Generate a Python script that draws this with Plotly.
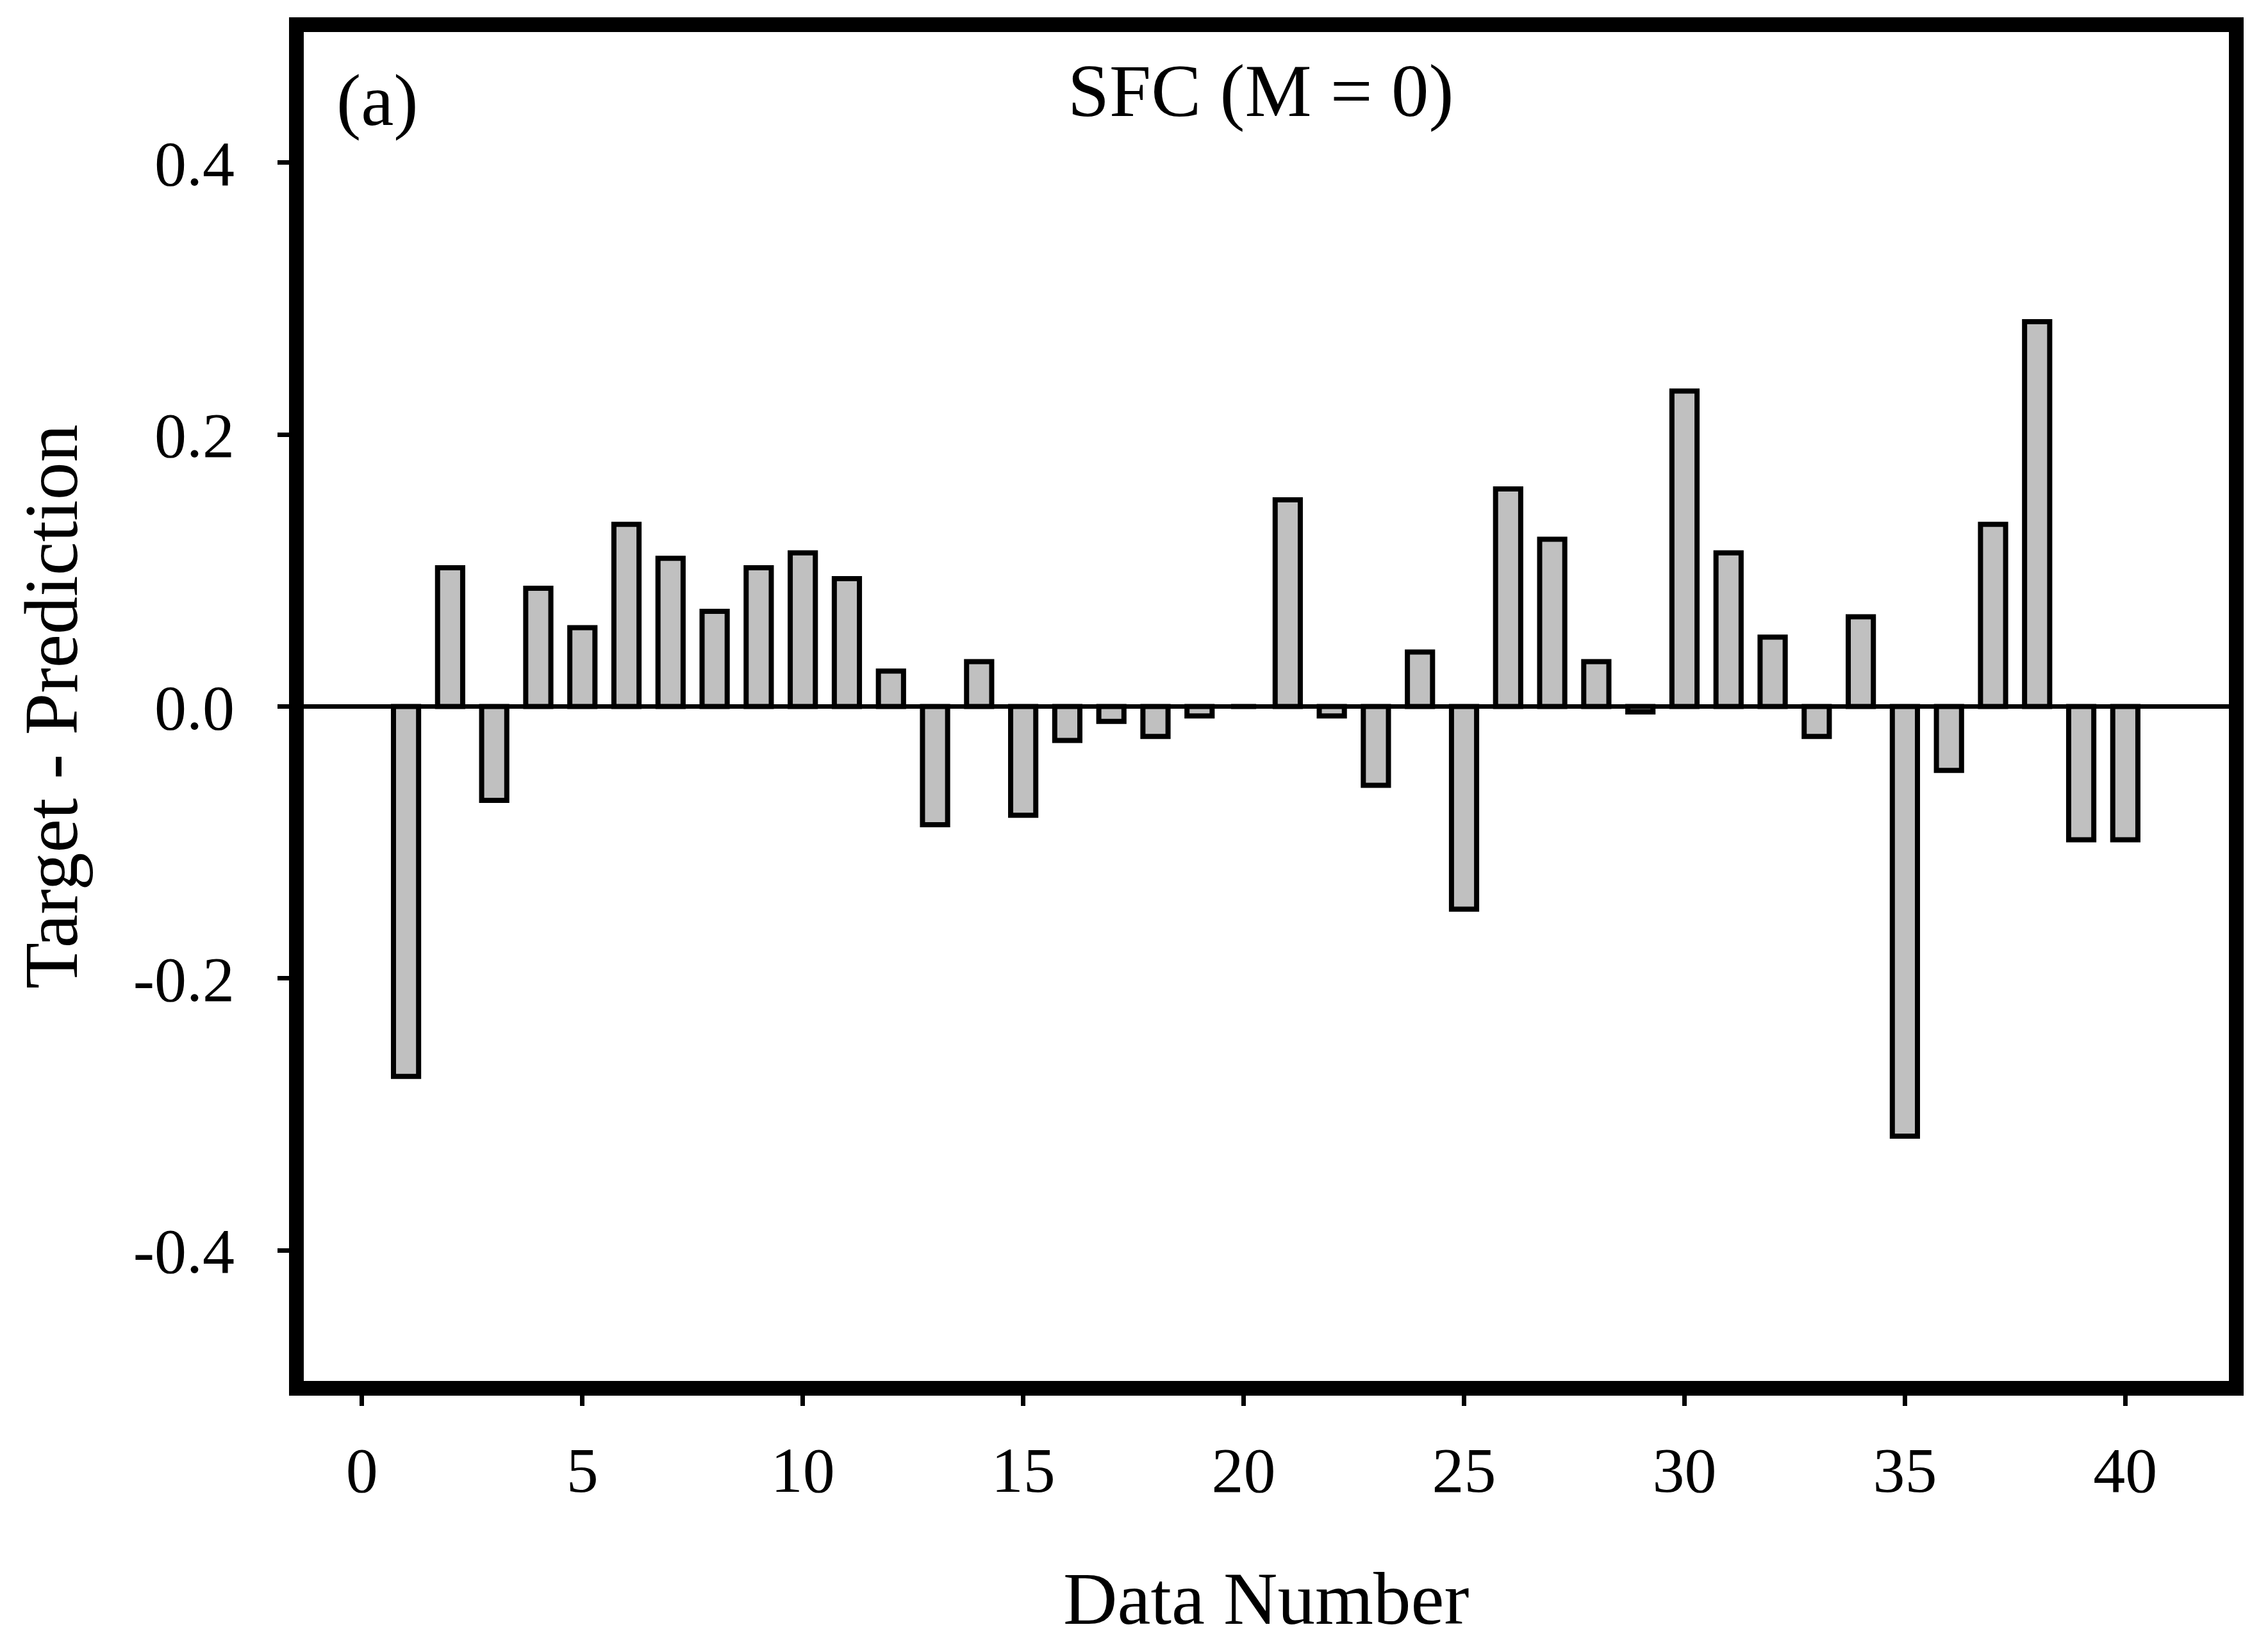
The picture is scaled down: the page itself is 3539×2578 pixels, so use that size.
import plotly.graph_objects as go

# ---- data ----
data_number = list(range(1, 41))
residual = [
    -0.272, 0.102, -0.069, 0.087, 0.058, 0.134, 0.109, 0.070, 0.102, 0.113,
    0.094, 0.026, -0.087, 0.033, -0.080, -0.025, -0.011, -0.022, -0.007, 0.0,
    0.152, -0.007, -0.058, 0.040, -0.149, 0.160, 0.123, 0.033, -0.004, 0.232,
    0.113, 0.051, -0.022, 0.066, -0.316, -0.047, 0.134, 0.283, -0.098, -0.098,
]
x_ticks = [0, 5, 10, 15, 20, 25, 30, 35, 40]
y_ticks = [-0.4, -0.2, 0.0, 0.2, 0.4]
y_tick_labels = ["-0.4", "-0.2", "0.0", "0.2", "0.4"]

FONT = "Liberation Serif, Times New Roman, serif"

fig = go.Figure(
    go.Bar(
        x=data_number,
        y=residual,
        width=0.57,
        marker=dict(color="#c0c0c0", line=dict(color="black", width=8)),
        showlegend=False,
    )
)

# page body has an 8px default margin; figure is sized to fit inside it
OFF = 8
W, H = 3539 - 2 * OFF, 2578 - 2 * OFF
L, T = 474 - OFF, 50 - OFF
R = W - (3478 - OFF)
B = H - (2155 - OFF)
pw, ph = W - L - R, H - T - B


def px_x(p):  # screenshot pixel -> paper x
    return (p - OFF - L) / pw


def px_y(p):  # screenshot pixel -> paper y
    return (H - B - (p - OFF)) / ph


fig.update_layout(
    width=W,
    height=H,
    margin=dict(l=L, r=R, t=T, b=B, pad=0),
    paper_bgcolor="white",
    plot_bgcolor="white",
    font=dict(family=FONT, color="black"),
    xaxis=dict(
        range=[-1.32, 42.35],
        tickmode="array",
        tickvals=x_ticks,
        ticktext=[str(v) for v in x_ticks],
        ticks="outside",
        ticklen=16,
        tickwidth=7,
        tickcolor="black",
        showline=True,
        linewidth=23,
        linecolor="black",
        mirror=True,
        showgrid=False,
        zeroline=False,
        tickfont=dict(size=100, family=FONT, color="black"),
        ticklabelstandoff=14,
    ),
    yaxis=dict(
        range=[-0.496, 0.496],
        tickmode="array",
        tickvals=y_ticks,
        ticktext=y_tick_labels,
        ticks="outside",
        ticklen=18,
        tickwidth=7,
        tickcolor="black",
        showline=True,
        linewidth=23,
        linecolor="black",
        mirror=True,
        showgrid=False,
        zeroline=True,
        zerolinecolor="black",
        zerolinewidth=7,
        tickfont=dict(size=100, family=FONT, color="black"),
        ticklabelstandoff=47,
    ),
    annotations=[
        dict(text="(a)", x=px_x(589), y=px_y(156), xref="paper", yref="paper",
             xanchor="center", yanchor="middle", showarrow=False,
             font=dict(size=115, family=FONT, color="black")),
        dict(text="SFC (M = 0)", x=px_x(1967), y=px_y(142), xref="paper", yref="paper",
             xanchor="center", yanchor="middle", showarrow=False,
             font=dict(size=117, family=FONT, color="black")),
        dict(text="Data Number", x=px_x(1976), y=px_y(2494), xref="paper", yref="paper",
             xanchor="center", yanchor="middle", showarrow=False,
             font=dict(size=117, family=FONT, color="black")),
        dict(text="Target - Prediction", x=px_x(80), y=px_y(1102), xref="paper", yref="paper",
             xanchor="center", yanchor="middle", showarrow=False, textangle=-90,
             font=dict(size=118, family=FONT, color="black")),
    ],
)

fig.write_html("out.html")
